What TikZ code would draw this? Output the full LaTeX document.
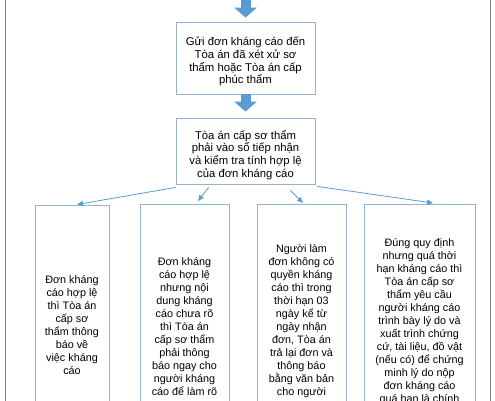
\documentclass[tikz,border=0pt]{standalone}
\usepackage{fontspec}
\setmainfont{Liberation Sans}
\usetikzlibrary{arrows.meta}
\definecolor{fatblue}{RGB}{91,155,213}
\definecolor{boxline}{RGB}{150,180,205}
\definecolor{framegray}{RGB}{128,128,128}
\tikzset{
  box/.style={draw=boxline, line width=0.8pt, inner sep=0pt},
  tallbox/.style={draw=boxline, line width=0.8pt, anchor=north, minimum height=260pt},
  toptext/.style={inner sep=0pt, align=center, font=\fontsize{11.3}{12.8}\selectfont},
  boxtext/.style={anchor=north, inner sep=0pt, align=center,
    font=\fontsize{10.8}{13}\selectfont},
  fatarrow/.style={draw=fatblue, line width=10pt, -{Triangle[width=22pt,length=10pt]}},
  thinarrow/.style={draw=fatblue, line width=0.8pt, -{Triangle[width=5pt,length=6pt]}}
}
\begin{document}
\begin{tikzpicture}[x=1pt,y=-1pt]
\useasboundingbox (0,0) rectangle (495,400);
%\draw (0,0) rectangle (495,400);
\draw[framegray, line width=1pt] (5,-20) rectangle (490,420);

\coordinate (in) at (245.5,-20);
\draw (245.5,58) node[box, minimum width=139pt, minimum height=72pt] (b1) {};
\draw (245.5,61.5) node[toptext] (t1)
  {Gửi đơn kháng cáo đến\\Tòa án đã xét xử sơ\\thẩm hoặc Tòa án cấp\\phúc thẩm};
\draw (245.5,151) node[box, minimum width=139pt, minimum height=66pt] (b2) {};
\draw (245.5,155) node[toptext] (t2)
  {Tòa án cấp sơ thẩm\\phải vào sổ tiếp nhận\\và kiểm tra tính hợp lệ\\của đơn kháng cáo};

\draw (72,204.5) node[tallbox, minimum width=74pt] (ba) {};
\draw (184.5,204) node[tallbox, minimum width=89pt] (bb) {};
\draw (301.5,204) node[tallbox, minimum width=89pt] (bc) {};
\draw (419.5,204) node[tallbox, minimum width=111pt] (bd) {};

\draw (72,275) node[boxtext] (ta) {Đơn kháng\\cáo hợp lệ\\thì Tòa án\\cấp sơ\\thẩm thông\\báo về\\việc kháng\\cáo};
\draw (184.5,257) node[boxtext] (tb) {Đơn kháng\\cáo hợp lệ\\nhưng nội\\dung kháng\\cáo chưa rõ\\thì Tòa án\\cấp sơ thẩm\\phải thông\\báo ngay cho\\người kháng\\cáo để làm rõ};
\draw (301.5,244) node[boxtext] (tc) {Người làm\\đơn không có\\quyền kháng\\cáo thì trong\\thời hạn 03\\ngày kể từ\\ngày nhận\\đơn, Tòa án\\trả lại đơn và\\thông báo\\bằng văn bản\\cho người};
\draw (419.5,238) node[boxtext] (td) {Đúng quy định\\nhưng quá thời\\hạn kháng cáo thì\\Tòa án cấp sơ\\thẩm yêu cầu\\người kháng cáo\\trình bày lý do và\\xuất trình chứng\\cứ, tài liệu, đồ vật\\(nếu có) để chứng\\minh lý do nộp\\đơn kháng cáo\\quá hạn là chính};

\draw[fatarrow, shorten >=4pt] (in) -- (b1);
\draw[fatarrow, shorten >=6pt] (b1) -- (b2);
\draw[thinarrow] ([yshift=-3pt]b2.south west) -- ([xshift=5pt]ba.north);
\draw[thinarrow] ([xshift=33pt,yshift=-3pt]b2.south west) -- ([xshift=13.5pt,yshift=3pt]bb.north);
\draw[thinarrow] ([xshift=-25pt,yshift=-6pt]b2.south east) -- ([xshift=1.5pt,yshift=1pt]bc.north);
\draw[thinarrow] ([xshift=2pt,yshift=-2pt]b2.south east) -- ([xshift=13.5pt,yshift=1pt]bd.north);
\end{tikzpicture}
\end{document}
